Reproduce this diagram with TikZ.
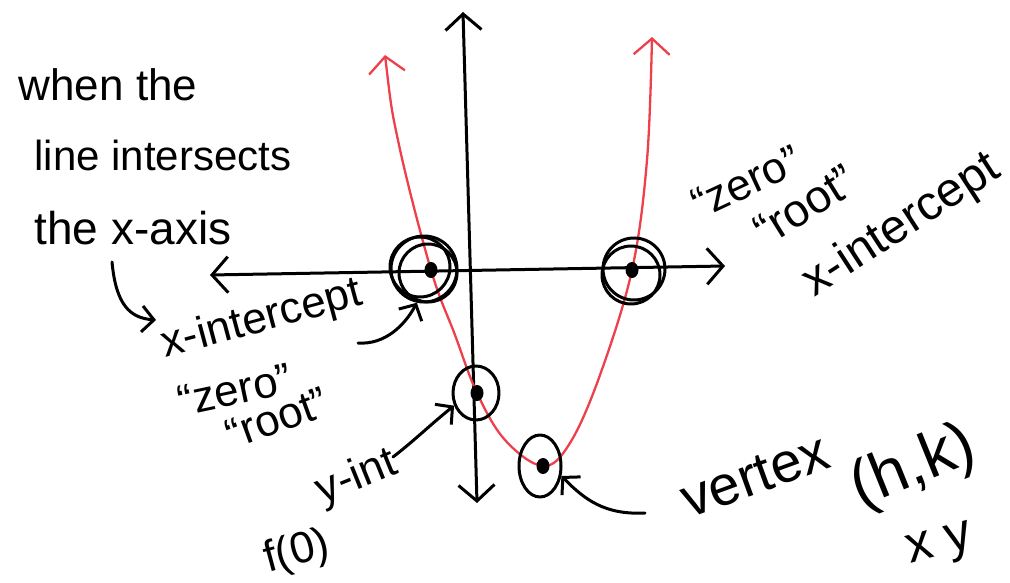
\documentclass[tikz,border=0pt]{standalone}
\usepackage{fontspec}
\setmainfont{Liberation Sans}
\usetikzlibrary{arrows.meta,shapes.geometric}
\definecolor{penred}{RGB}{238,64,74}
\tikzset{
  hand/.style={inner sep=0pt, font=\fontsize{44}{50}\selectfont},
  pen/.style={line width=3pt, line cap=round, line join=round},
  ring/.style={draw, pen, circle, inner sep=0pt},
  oval/.style={draw, pen, ellipse, inner sep=0pt},
  dot/.style={fill, ellipse, minimum width=13pt, minimum height=16pt, inner sep=0pt},
  barb/.style={-{Straight Barb[length=12pt, width=26pt]}},
  bigbarbs/.style={{Straight Barb[length=16pt, width=36pt]}-{Straight Barb[length=16pt, width=36pt]}}
}
\begin{document}
\begin{tikzpicture}[x=1pt, y=-1pt]
  \useasboundingbox (0,0) rectangle (1010,583);

  % axes
  \coordinate (yTop) at (463,12);
  \coordinate (yBot) at (477,503);
  \coordinate (xLeft) at (210,275);
  \coordinate (xRight) at (725,266);
  \draw[pen, bigbarbs] (xLeft) -- (xRight);
  \draw[pen, bigbarbs] (yTop) -- (yBot);

  % points on the parabola
  \coordinate (armL) at (385,55);
  \coordinate (rootA) at (431,270);
  \coordinate (yint) at (477,393);
  \coordinate (vtx) at (543,466);
  \coordinate (rootB) at (632,270);
  \coordinate (armR) at (652,37);

  \draw[penred, line width=2.3pt, line cap=round, bigbarbs]
    plot[smooth, tension=0.6] coordinates {(armL) (399,145) (rootA) (455,335) (yint)
      (505,440) (vtx) (570,443) (600,375) (rootB) (647,160) (armR)};

  % circled points
  \node[ring, minimum size=66pt] (ringA) at (424,269) {};
  \draw[pen] (420,267) circle[radius=30];
  \draw[pen] (428,273) circle[radius=29];
  \node[ring, minimum size=62pt] (ringB) at (634,269) {};
  \draw[pen] (631,275) circle[radius=29];
  \node[oval, minimum width=46pt, minimum height=54pt] (yintRing) at (476,393) {};
  \node[oval, minimum width=42pt, minimum height=62pt] (vtxRing) at (540,466) {};

  \node[dot] (dotA) at (rootA) {};
  \node[dot] (dotB) at (rootB) {};
  \node[dot] (dotY) at (yint) {};
  \node[dot] (dotV) at (vtx) {};

  % left notes
  \node[hand] (whenThe) at (108,85) {when the};
  \node[hand, font=\fontsize{42}{48}\selectfont] (lineInt) at (163,155) {line intersects};
  \node[hand, font=\fontsize{46}{52}\selectfont] (theAxis) at (133,228) {the x-axis};

  \node[hand, rotate=15] (xintL) at (262,320) {x-intercept};
  \node[hand, rotate=12] (zeroL) at (235,390) {“zero”};
  \node[hand, rotate=20] (rootL) at (277,418) {“root”};
  \node[hand, rotate=22] (yintTxt) at (357,478) {y-int};
  \node[hand, rotate=15] (fZero) at (297,553) {f(0)};

  % right notes
  \node[hand, font=\fontsize{44}{50}\selectfont, rotate=25] (zeroR) at (746,182) {“zero”};
  \node[hand, font=\fontsize{46}{52}\selectfont, rotate=32] (rootR) at (805,205) {“root”};
  \node[hand, font=\fontsize{48}{54}\selectfont, rotate=33] (xintR) at (902,226) {x-intercept};

  \node[hand, font=\fontsize{56}{62}\selectfont, rotate=20] (vertexTxt) at (755,476) {vertex};
  \node[hand, font=\fontsize{64}{70}\selectfont, rotate=22] (hk) at (914,468) {(h,k)};
  \node[hand, font=\fontsize{52}{58}\selectfont, rotate=15] (xy) at (940,547) {x y};

  % pointers
  \coordinate (hookTop) at (112,262);
  \coordinate (hookTip) at (156,320);
  \draw[pen, barb] (hookTop) .. controls (116,305) and (130,318) .. (hookTip);
  \coordinate (xintFoot) at (358,343);
  \draw[pen, barb] (xintFoot) .. controls (385,345) and (405,325) .. (ringA.-102);
  \coordinate (yintFoot) at (393,457);
  \draw[pen, barb] (yintFoot) .. controls (415,440) and (430,425) .. (yintRing.-150);
  \coordinate (vertexFoot) at (645,513);
  \draw[pen, barb] (vertexFoot) .. controls (605,515) and (585,500) .. (vtxRing.-25);
\end{tikzpicture}
\end{document}
